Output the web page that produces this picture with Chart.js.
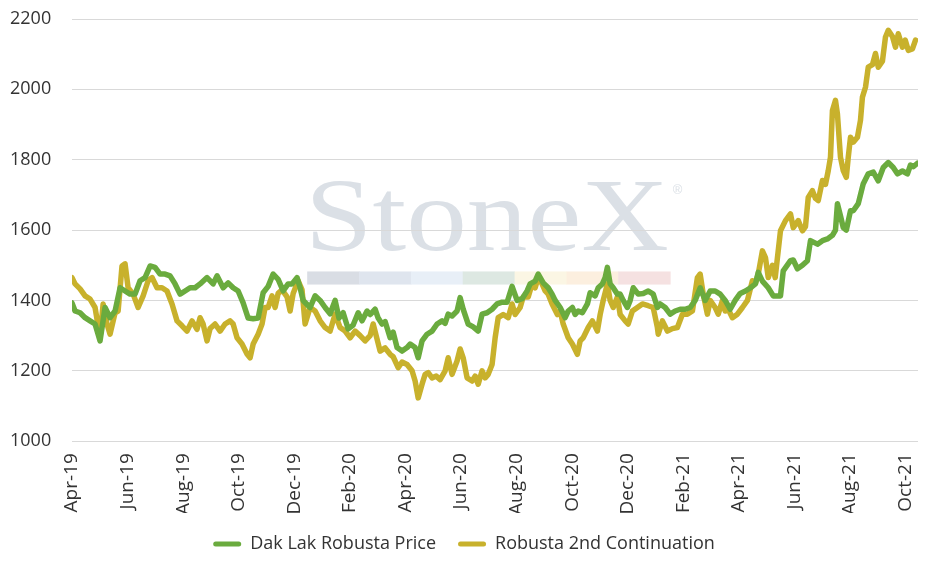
<!DOCTYPE html>
<html>
<head>
<meta charset="utf-8">
<script src="https://cdn.jsdelivr.net/npm/chart.js@4.4.0/dist/chart.umd.min.js"></script>
<style>
  html, body { margin: 0; padding: 0; background: #ffffff; }
  #wrap { width: 931px; height: 567px; position: relative; }
</style>
</head>
<body>
<div id="wrap"><canvas id="c"></canvas></div>
<script>
// X axis tick labels (every 2 months, starting Apr-2019)
const tickLabels = ['Apr-19','Jun-19','Aug-19','Oct-19','Dec-19','Feb-20','Apr-20','Jun-20',
  'Aug-20','Oct-20','Dec-20','Feb-21','Apr-21','Jun-21','Aug-21','Oct-21'];

// Series names
const seriesNames = ['Dak Lak Robusta Price', 'Robusta 2nd Continuation'];

// Dak Lak Robusta Price: time in months since 1 Apr 2019, and price
const dakLakMonths = [
  0.00,0.11,0.29,0.47,0.65,0.83,1.01,1.19,1.37,1.55,
  1.73,1.91,2.09,2.27,2.45,2.63,2.81,2.99,3.17,3.35,
  3.53,3.71,3.89,4.07,4.25,4.43,4.61,4.86,5.08,5.22,
  5.44,5.62,5.80,5.98,6.16,6.34,6.52,6.70,6.88,7.06,
  7.24,7.42,7.60,7.78,7.92,8.10,8.21,8.32,8.57,8.75,
  8.93,9.11,9.29,9.47,9.61,9.76,9.94,10.12,10.30,10.44,
  10.62,10.73,10.91,11.02,11.16,11.27,11.45,11.56,11.70,11.88,
  12.06,12.17,12.35,12.46,12.60,12.78,12.96,13.14,13.32,13.43,
  13.54,13.68,13.86,13.97,14.08,14.26,14.44,14.62,14.76,14.94,
  15.12,15.30,15.48,15.66,15.84,16.02,16.20,16.38,16.49,16.67,
  16.78,16.96,17.14,17.28,17.39,17.57,17.75,17.86,18.01,18.11,
  18.22,18.37,18.55,18.65,18.83,18.94,19.09,19.19,19.27,19.37,
  19.48,19.63,19.73,19.84,19.99,20.09,20.20,20.38,20.56,20.74,
  20.92,21.07,21.17,21.35,21.53,21.71,21.89,22.07,22.25,22.43,
  22.61,22.79,22.97,23.15,23.33,23.51,23.69,23.87,24.05,24.24,
  24.42,24.60,24.70,24.85,25.06,25.24,25.50,25.60,25.86,25.96,
  26.11,26.29,26.47,26.58,26.83,27.01,27.19,27.37,27.48,27.55,
  27.66,27.76,27.87,28.02,28.12,28.30,28.48,28.66,28.84,29.02,
  29.20,29.38,29.56,29.71,29.89,30.07,30.18,30.28,30.43
];
const dakLakValues = [
  1393,1370,1365,1351,1342,1333,1285,1380,1351,1370,
  1436,1427,1418,1418,1456,1465,1498,1494,1475,1475,
  1470,1447,1418,1427,1436,1436,1447,1465,1447,1470,
  1436,1450,1436,1427,1393,1350,1348,1350,1422,1440,
  1475,1460,1427,1447,1447,1465,1436,1400,1380,1413,
  1400,1380,1362,1400,1350,1365,1319,1330,1365,1342,
  1370,1360,1375,1350,1333,1340,1294,1310,1266,1256,
  1266,1276,1266,1237,1285,1304,1313,1333,1342,1335,
  1361,1356,1370,1408,1375,1333,1325,1313,1361,1365,
  1375,1390,1395,1395,1440,1400,1405,1427,1447,1455,
  1475,1450,1436,1418,1400,1380,1351,1370,1380,1360,
  1370,1365,1390,1422,1413,1436,1447,1465,1494,1447,
  1436,1418,1418,1400,1380,1400,1436,1418,1420,1427,
  1418,1380,1390,1380,1361,1370,1375,1375,1380,1400,
  1436,1400,1427,1427,1418,1400,1375,1400,1420,1427,
  1436,1447,1480,1455,1436,1413,1413,1484,1513,1515,
  1490,1500,1513,1570,1560,1570,1575,1585,1600,1675,
  1640,1607,1600,1655,1655,1675,1732,1760,1765,1740,
  1778,1792,1778,1760,1768,1760,1785,1780,1790
];

// Robusta 2nd Continuation: time in months since 1 Apr 2019, and price
const robustaMonths = [
  0.00,0.11,0.29,0.47,0.65,0.83,1.01,1.12,1.26,1.37,
  1.55,1.66,1.80,1.91,2.02,2.20,2.38,2.56,2.74,2.88,
  3.06,3.24,3.42,3.60,3.78,3.96,4.14,4.32,4.50,4.61,
  4.72,4.86,4.97,5.15,5.33,5.51,5.69,5.80,5.94,6.12,
  6.30,6.41,6.52,6.70,6.84,6.95,7.06,7.20,7.31,7.42,
  7.56,7.74,7.85,7.96,8.14,8.28,8.39,8.57,8.75,8.93,
  9.11,9.29,9.47,9.65,9.83,10.01,10.19,10.37,10.55,10.73,
  10.84,10.98,11.09,11.27,11.45,11.56,11.74,11.88,12.06,12.24,
  12.35,12.46,12.60,12.71,12.82,12.96,13.11,13.25,13.43,13.54,
  13.68,13.86,13.97,14.08,14.22,14.40,14.51,14.62,14.76,14.87,
  14.98,15.12,15.23,15.34,15.52,15.70,15.84,15.95,16.13,16.24,
  16.42,16.56,16.67,16.78,16.92,17.03,17.14,17.28,17.47,17.57,
  17.68,17.86,18.01,18.19,18.29,18.40,18.58,18.73,18.91,19.01,
  19.12,19.27,19.37,19.48,19.63,19.73,19.91,20.02,20.17,20.35,
  20.53,20.74,20.92,21.07,21.10,21.25,21.43,21.61,21.79,21.97,
  22.15,22.33,22.51,22.61,22.72,22.87,22.97,23.15,23.26,23.41,
  23.51,23.62,23.77,23.95,24.13,24.31,24.49,24.60,24.70,24.85,
  24.96,25.06,25.21,25.31,25.50,25.68,25.86,25.96,26.14,26.29,
  26.40,26.50,26.65,26.76,26.86,27.01,27.12,27.22,27.30,27.37,
  27.48,27.55,27.66,27.76,27.87,27.94,28.02,28.12,28.27,28.38,
  28.45,28.56,28.66,28.81,28.92,29.02,29.17,29.28,29.38,29.53,
  29.64,29.74,29.89,29.99,30.10,30.25,30.36
];
const robustaValues = [
  1465,1447,1433,1413,1404,1380,1294,1390,1333,1304,
  1365,1370,1498,1504,1436,1418,1380,1413,1456,1465,
  1436,1436,1427,1390,1342,1328,1313,1342,1318,1351,
  1333,1285,1320,1333,1313,1333,1342,1333,1294,1276,
  1248,1237,1276,1304,1333,1380,1380,1413,1380,1420,
  1430,1410,1370,1420,1456,1430,1333,1380,1370,1342,
  1323,1313,1361,1323,1313,1294,1313,1300,1285,1300,
  1333,1290,1256,1265,1247,1240,1209,1225,1218,1200,
  1171,1123,1162,1190,1195,1180,1185,1175,1200,1237,
  1190,1228,1262,1237,1180,1171,1185,1162,1200,1180,
  1190,1218,1294,1351,1360,1351,1390,1360,1380,1410,
  1410,1447,1436,1465,1447,1427,1418,1390,1360,1370,
  1333,1294,1276,1247,1285,1294,1323,1342,1313,1360,
  1400,1447,1400,1380,1410,1360,1342,1333,1370,1380,
  1390,1385,1380,1323,1304,1342,1313,1320,1323,1361,
  1361,1370,1465,1475,1418,1361,1400,1380,1361,1400,
  1370,1375,1351,1361,1380,1400,1456,1450,1475,1541,
  1522,1465,1500,1465,1598,1627,1646,1607,1627,1598,
  1610,1693,1712,1690,1684,1741,1730,1769,1807,1940,
  1969,1930,1807,1769,1750,1807,1864,1850,1864,1912,
  1978,2006,2063,2070,2102,2063,2080,2149,2168,2150,
  2120,2158,2120,2140,2111,2115,2140
];

const GREEN = '#6aab3e';
const GOLD = '#c8b12c';
const FONT = '"Open Sans", Lato, sans-serif';

// Watermark drawn beneath grid and lines
const watermark = {
  id: 'watermark',
  beforeDraw(chart) {
    const { ctx, chartArea: a } = chart;
    const w = a.right - a.left, h = a.bottom - a.top;
    ctx.save();
    const cx = a.left + w * 0.4905;
    const base = a.top + h * 0.548;
    ctx.font = '104px "Liberation Serif", "DejaVu Serif", serif';
    ctx.fillStyle = '#dbe0e6';
    ctx.textAlign = 'center';
    ctx.textBaseline = 'alphabetic';
    const target = w * 0.43;
    const mw = ctx.measureText('StoneX').width;
    ctx.translate(cx, base);
    ctx.scale(target / mw, 1);
    ctx.fillText('StoneX', 0, 0);
    ctx.restore();
    ctx.save();
    ctx.font = '13px "Liberation Sans", sans-serif';
    ctx.fillStyle = '#dbe0e6';
    ctx.textAlign = 'left';
    ctx.fillText('®', a.left + w * 0.71, a.top + h * 0.405);
    const cols = ['#d9dde4','#dfe5ee','#e8eff7','#dde8e2','#fbf6e4','#fcefdf','#f5e1e1'];
    const bx = a.left + w * 0.278, bw = w * 0.429 / cols.length;
    const by = a.top + h * 0.598, bh = h * 0.031;
    cols.forEach((c, i) => { ctx.fillStyle = c; ctx.fillRect(bx + i * bw, by, bw + 0.5, bh); });
    ctx.restore();
  }
};

const ds = (label, months, values, color) => ({
  label,
  data: months.map((m, i) => ({ x: m, y: values[i] })),
  borderColor: color,
  backgroundColor: color,
  borderWidth: 5.5,
  pointRadius: 0,
  pointHoverRadius: 0,
  tension: 0,
  borderJoinStyle: 'round',
  borderCapStyle: 'round',
  fill: false
});

new Chart(document.getElementById('c'), {
  type: 'line',
  data: {
    datasets: [
      ds(seriesNames[0], dakLakMonths, dakLakValues, GREEN),
      ds(seriesNames[1], robustaMonths, robustaValues, GOLD)
    ]
  },
  options: {
    responsive: true,
    maintainAspectRatio: false,
    animation: false,
    layout: { padding: { left: 10, right: 13, top: 19, bottom: 4 } },
    scales: {
      x: {
        type: 'linear',
        min: 0,
        max: 30.45,
        afterBuildTicks(axis) { axis.ticks = tickLabels.map((_, i) => ({ value: i * 2 })); },
        afterFit(scale) {
          scale.height = scale.height - 14;
          scale.paddingRight = 0;
          scale.paddingLeft = 0;
        },
        ticks: {
          autoSkip: false,
          minRotation: 90,
          maxRotation: 90,
          padding: 12,
          color: '#333333',
          font: { family: FONT, size: 19 },
          callback: (v) => tickLabels[Math.round(v / 2)]
        },
        grid: { display: false, drawTicks: false },
        border: { display: false }
      },
      y: {
        min: 1000,
        max: 2200,
        afterFit(scale) { scale.width = 62; },
        ticks: {
          stepSize: 200,
          padding: 0,
          crossAlign: 'far',
          color: '#333333',
          font: { family: FONT, size: 18 },
          callback: (v) => String(v)
        },
        grid: { color: '#d9d9d9', lineWidth: 1, drawTicks: false },
        border: { display: false }
      }
    },
    plugins: {
      legend: {
        position: 'bottom',
        labels: {
          boxWidth: 28,
          boxHeight: 5,
          padding: 22,
          color: '#333333',
          font: { family: FONT, size: 18 },
          useBorderRadius: true,
          borderRadius: 2.5,
          generateLabels(chart) {
            return Chart.defaults.plugins.legend.labels.generateLabels(chart)
              .map(l => Object.assign(l, { lineWidth: 0 }));
          }
        }
      },
      tooltip: { enabled: false }
    }
  },
  plugins: [watermark]
});
</script>
</body>
</html>
